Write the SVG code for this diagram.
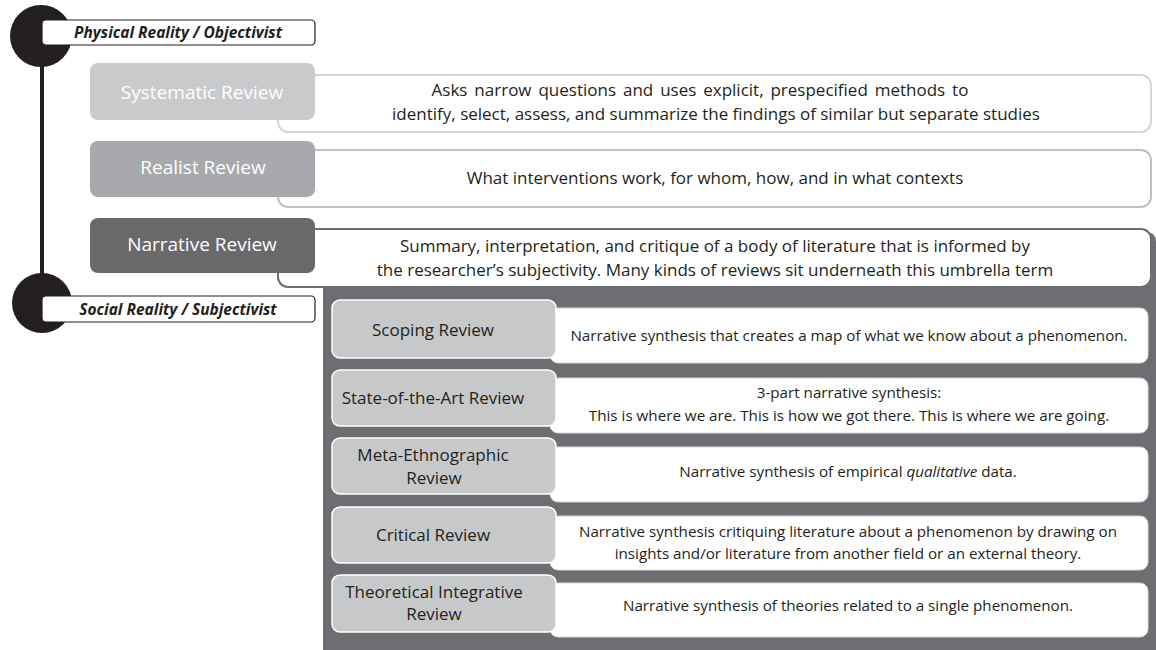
<svg xmlns="http://www.w3.org/2000/svg" width="1156" height="650" viewBox="0 0 1156 650">
  <style>
    .t { font-family: "Open Sans", "Noto Sans", sans-serif; fill: #231f20; text-anchor: middle; }
    .lbl { font-size: 15.5px; font-weight: bold; font-style: italic; }
    .ttl { font-size: 19px; fill: #ffffff; }
    .dsc { font-size: 17px; }
    .sub { font-size: 17px; }
    .sd { font-size: 15.2px; }
    .subbox { fill: #c7c8ca; stroke: #ffffff; stroke-width: 1.5; }
    .subdesc { fill: #ffffff; stroke: #d9d9d9; stroke-width: 1; }
  </style>

  <!-- timeline spine between the two paradigms -->
  <g id="connectors">
    <line x1="42" y1="50" x2="42" y2="290" stroke="#231f20" stroke-width="4"/>
  </g>

  <!-- dark panel holding the narrative sub-types -->
  <g id="narrative-panel">
    <path d="M323 232 H1146 Q1156 232 1156 242 V650 H323 Z" fill="#6d6e71"/>
  </g>

  <!-- paradigm markers -->
  <g id="physical-reality">
    <circle cx="41" cy="36" r="31" fill="#231f20"/>
    <rect x="42" y="20" width="273" height="25" rx="4" fill="#ffffff" stroke="#231f20" stroke-width="1.2"/>
    <text class="t lbl" x="178" y="37.5">Physical Reality / Objectivist</text>
  </g>
  <g id="social-reality">
    <circle cx="42" cy="303" r="30" fill="#231f20"/>
    <rect x="42" y="296" width="273" height="26" rx="4" fill="#ffffff" stroke="#231f20" stroke-width="1.2"/>
    <text class="t lbl" x="178" y="314.5">Social Reality / Subjectivist</text>
  </g>

  <!-- top-level review types -->
  <g id="systematic-review">
    <rect x="278" y="75" width="873" height="57" rx="10" fill="#ffffff" stroke="#d5d6d7" stroke-width="2"/>
    <rect x="90" y="63" width="225" height="57" rx="8" fill="#c9cacc"/>
    <text class="t ttl" x="202" y="99">Systematic Review</text>
    <text class="t dsc" x="700" y="96" word-spacing="2.5">Asks narrow questions and uses explicit, prespecified methods to</text>
    <text class="t dsc" x="716" y="120">identify, select, assess, and summarize the findings of similar but separate studies</text>
  </g>

  <g id="realist-review">
    <rect x="278" y="150" width="873" height="57" rx="10" fill="#ffffff" stroke="#bfc0c2" stroke-width="2"/>
    <rect x="90" y="141" width="225" height="56" rx="8" fill="#a7a9ac"/>
    <text class="t ttl" x="203" y="174">Realist Review</text>
    <text class="t dsc" x="715" y="184">What interventions work, for whom, how, and in what contexts</text>
  </g>

  <g id="narrative-review">
    <rect x="278" y="229" width="873" height="58" rx="10" fill="#ffffff" stroke="#6d6e71" stroke-width="2"/>
    <rect x="90" y="218" width="225" height="55" rx="8" fill="#69696c"/>
    <text class="t ttl" x="202" y="251">Narrative Review</text>
    <text class="t dsc" x="715" y="252">Summary, interpretation, and critique of a body of literature that is informed by</text>
    <text class="t dsc" x="715" y="276">the researcher’s subjectivity. Many kinds of reviews sit underneath this umbrella term</text>
  </g>

  <!-- narrative sub-types -->
  <g id="scoping-review">
    <rect class="subdesc" x="550" y="308" width="598" height="55" rx="8"/>
    <rect class="subbox" x="332" y="300" width="224" height="58" rx="8"/>
    <text class="t sub" x="433" y="336">Scoping Review</text>
    <text class="t sd" x="849" y="341">Narrative synthesis that creates a map of what we know about a phenomenon.</text>
  </g>

  <g id="state-of-the-art-review">
    <rect class="subdesc" x="550" y="378" width="598" height="55" rx="8"/>
    <rect class="subbox" x="332" y="370" width="224" height="56" rx="8"/>
    <text class="t sub" x="433" y="404">State-of-the-Art Review</text>
    <text class="t sd" x="849" y="398">3-part narrative synthesis:</text>
    <text class="t sd" x="849" y="421">This is where we are. This is how we got there. This is where we are going.</text>
  </g>

  <g id="meta-ethnographic-review">
    <rect class="subdesc" x="550" y="447" width="598" height="55" rx="8"/>
    <rect class="subbox" x="332" y="438" width="224" height="56" rx="8"/>
    <text class="t sub" x="433" y="461">Meta-Ethnographic</text>
    <text class="t sub" x="434" y="484">Review</text>
    <text class="t sd" x="848" y="477">Narrative synthesis of empirical <tspan font-style="italic">qualitative</tspan> data.</text>
  </g>

  <g id="critical-review">
    <rect class="subdesc" x="550" y="516" width="598" height="54" rx="8"/>
    <rect class="subbox" x="332" y="507" width="224" height="56" rx="8"/>
    <text class="t sub" x="433" y="541">Critical Review</text>
    <text class="t sd" x="848" y="537">Narrative synthesis critiquing literature about a phenomenon by drawing on</text>
    <text class="t sd" x="848" y="559">insights and/or literature from another field or an external theory.</text>
  </g>

  <g id="theoretical-integrative-review">
    <rect class="subdesc" x="550" y="583" width="598" height="54" rx="8"/>
    <rect class="subbox" x="332" y="575" width="224" height="57" rx="8"/>
    <text class="t sub" x="434" y="598">Theoretical Integrative</text>
    <text class="t sub" x="434" y="620">Review</text>
    <text class="t sd" x="848" y="611">Narrative synthesis of theories related to a single phenomenon.</text>
  </g>
</svg>
